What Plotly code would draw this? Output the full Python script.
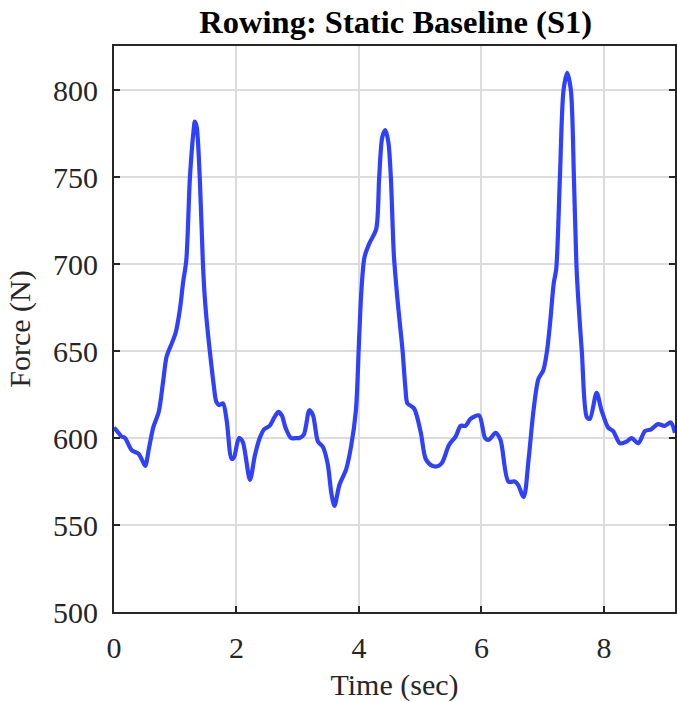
import plotly.graph_objects as go

# Rowing force trace, static baseline trial S1
time_sec = [
    0.00, 0.05, 0.12, 0.18, 0.24, 0.29, 0.40, 0.45, 0.51, 0.57,
    0.64, 0.73, 0.80, 0.86, 0.95, 1.01, 1.08, 1.13, 1.18, 1.24,
    1.30, 1.32, 1.35, 1.40, 1.45, 1.48, 1.52, 1.58, 1.63, 1.67,
    1.72, 1.78, 1.84, 1.92, 1.96, 2.04, 2.10, 2.22, 2.30, 2.38,
    2.45, 2.54, 2.62, 2.68, 2.74, 2.80, 2.89, 2.98, 3.03, 3.10,
    3.19, 3.25, 3.33, 3.41, 3.49, 3.55, 3.60, 3.68, 3.79, 3.87,
    3.95, 4.00, 4.04, 4.09, 4.17, 4.28, 4.33, 4.38, 4.43, 4.48,
    4.52, 4.57, 4.62, 4.67, 4.71, 4.76, 4.79, 4.90, 5.01, 5.09,
    5.20, 5.30, 5.36, 5.47, 5.58, 5.66, 5.74, 5.82, 5.96, 6.06,
    6.12, 6.23, 6.31, 6.44, 6.55, 6.60, 6.69, 6.77, 6.85, 6.93,
    7.01, 7.07, 7.12, 7.18, 7.22, 7.28, 7.34, 7.40, 7.46, 7.51,
    7.55, 7.58, 7.64, 7.72, 7.77, 7.88, 7.96, 8.07, 8.15, 8.26,
    8.37, 8.45, 8.56, 8.67, 8.77, 8.88, 8.99, 9.09, 9.16,
]
force_n = [
    606, 604, 601, 600, 596, 593, 591, 588, 584, 594,
    606, 615, 632, 647, 655, 661, 675, 690, 702, 750,
    777, 782, 779, 750, 702, 682, 665, 645, 630, 621,
    619, 620, 610, 588, 589, 600, 598, 576, 590, 600,
    605, 607, 612, 615, 613, 606, 600, 600, 600, 602,
    616, 613, 598, 595, 585, 568, 561, 573, 582, 595,
    616, 655, 685, 704, 712, 720, 750, 773, 777, 770,
    750, 705, 683, 665, 651, 628, 620, 617, 603, 588,
    584, 584, 586, 596, 601, 607, 607, 611, 613, 600,
    599, 603, 599, 575, 575, 573, 566, 588, 616, 634,
    639, 650, 666, 689, 697, 749, 800, 810, 800, 749,
    700, 680, 649, 612, 611, 626, 616, 606, 604, 597,
    598, 600, 597, 604, 605, 608, 607, 609, 603,
]

x_ticks = [0, 2, 4, 6, 8]
y_ticks = [500, 550, 600, 650, 700, 750, 800]

SERIF = "Liberation Serif"
AXIS_COLOR = "#262626"
GRID_COLOR = "#dcdcdc"
TICK_SIZE = 30

fig = go.Figure()
fig.add_trace(go.Scatter(
    x=time_sec,
    y=force_n,
    mode="lines",
    line=dict(color="#3040FF", width=4.2, shape="spline", smoothing=0.8),
    hoverinfo="skip",
    showlegend=False,
))

fig.update_layout(
    width=677,
    height=702,
    margin=dict(l=114, r=0, t=46, b=90),
    paper_bgcolor="white",
    plot_bgcolor="white",
    font=dict(family=SERIF, size=TICK_SIZE, color=AXIS_COLOR),
    title=dict(
        text="<b>Rowing: Static Baseline (S1)</b>",
        font=dict(family=SERIF, size=32.5, color="black"),
        x=0.5845, xanchor="center",
        y=1 - 22 / 702, yanchor="middle",
        yref="container", xref="container",
    ),
)

fig.update_xaxes(
    range=[0, 9.16],
    tickvals=x_ticks,
    ticks="inside", ticklen=6, tickwidth=2, tickcolor=AXIS_COLOR,
    showline=True, linewidth=2, linecolor=AXIS_COLOR, mirror=True,
    showgrid=True, gridcolor=GRID_COLOR, gridwidth=2,
    zeroline=False,
    ticklabelstandoff=8,
    tickfont=dict(family=SERIF, size=TICK_SIZE, color=AXIS_COLOR),
    title=dict(text="Time (sec)", font=dict(family=SERIF, size=TICK_SIZE, color=AXIS_COLOR), standoff=12),
)
fig.update_yaxes(
    range=[500, 825.4],
    tickvals=y_ticks,
    ticks="inside", ticklen=6, tickwidth=2, tickcolor=AXIS_COLOR,
    showline=True, linewidth=2, linecolor=AXIS_COLOR, mirror="ticks",
    showgrid=True, gridcolor=GRID_COLOR, gridwidth=2,
    zeroline=False,
    ticklabelstandoff=8,
    tickfont=dict(family=SERIF, size=TICK_SIZE, color=AXIS_COLOR),
    title=dict(text="Force (N)", font=dict(family=SERIF, size=TICK_SIZE, color=AXIS_COLOR), standoff=14),
)

fig.write_html("out.html")
